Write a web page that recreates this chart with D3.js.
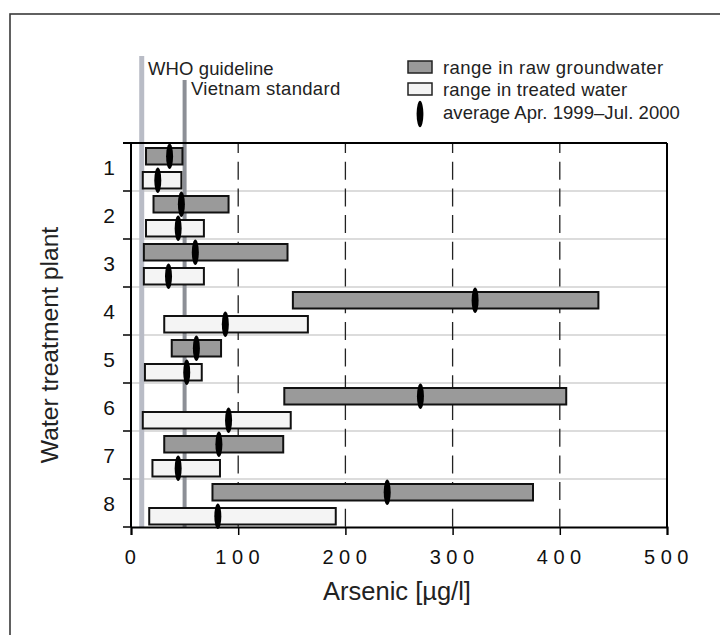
<!DOCTYPE html>
<html>
<head>
<meta charset="utf-8">
<script src="https://cdn.jsdelivr.net/npm/d3@7"></script>
<style>
  html, body { margin: 0; padding: 0; background: #fff; }
  svg { display: block; font-family: "Liberation Sans", Arial, Helvetica, sans-serif; }
</style>
</head>
<body>
<svg id="chart" width="720" height="635"></svg>
<script>
// ---- data ----
const plants = ["1", "2", "3", "4", "5", "6", "7", "8"];
const rawMin = [14, 21, 12, 151, 38, 143, 31, 76];
const rawMax = [48, 91, 146, 436, 84, 406, 142, 375];
const rawAvg = [36, 47, 60, 321, 61, 270, 82, 239];
const treatedMin = [11, 14, 12, 31, 13, 11, 20, 17];
const treatedMax = [47, 68, 68, 165, 66, 149, 83, 191];
const treatedAvg = [25, 44, 35, 88, 52, 91, 44, 81];
const xTicks = [0, 100, 200, 300, 400, 500];
const dashedTicks = [100, 200, 300, 400];
const guidelineNames = ["WHO guideline", "Vietnam standard"];
const guidelineValues = [10, 50];
const legendLabels = ["range in raw groundwater", "range in treated water", "average Apr. 1999\u2013Jul. 2000"];

(function () {
// ---- layout ----
const svg = d3.select("#chart");
const pL = 131, pR = 667, pT = 143, pB = 527;
const labelFont = 18.5;

const x = d3.scaleLinear().domain([0, 500]).range([pL, pR]);
const y = d3.scaleBand().domain(plants).range([pT, pB]).padding(0);

// outer frame (extends past the window)
svg.append("rect").attr("x", 10).attr("y", 14).attr("width", 760).attr("height", 700)
  .attr("fill", "none").attr("stroke", "#3a3a3a").attr("stroke-width", 1.6);

// horizontal light grid lines between rows
svg.append("g").selectAll("line").data(plants.slice(1)).join("line")
  .attr("x1", pL).attr("x2", pR)
  .attr("y1", d => y(d)).attr("y2", d => y(d))
  .attr("stroke", "#d0d0d0").attr("stroke-width", 1.5);

// dashed verticals
svg.append("g").selectAll("line").data(dashedTicks).join("line")
  .attr("x1", d => x(d)).attr("x2", d => x(d))
  .attr("y1", pT).attr("y2", pB)
  .attr("stroke", "#222").attr("stroke-width", 1.3)
  .attr("stroke-dasharray", "18,8.7").attr("stroke-dashoffset", 8);

// guideline lines
const glColors = ["#b9bcc6", "#8c8f96"];
const glTop = [56, 80];
const glWidth = [5, 4];
guidelineValues.forEach((v, i) => {
  svg.append("line").attr("x1", x(v)).attr("x2", x(v))
    .attr("y1", glTop[i]).attr("y2", pB)
    .attr("stroke", glColors[i]).attr("stroke-width", glWidth[i]);
});
svg.append("text").attr("x", 148).attr("y", 75).attr("font-size", labelFont)
  .attr("letter-spacing", 0.1).attr("fill", "#222").text(guidelineNames[0]);
svg.append("text").attr("x", 191).attr("y", 95).attr("font-size", labelFont)
  .attr("letter-spacing", 0.3).attr("fill", "#222").text(guidelineNames[1]);

// axes frame: top, right
svg.append("line").attr("x1", pL - 8).attr("x2", pR).attr("y1", pT).attr("y2", pT)
  .attr("stroke", "#000").attr("stroke-width", 2);
svg.append("line").attr("x1", pR).attr("x2", pR).attr("y1", pT).attr("y2", pB)
  .attr("stroke", "#000").attr("stroke-width", 2);

// bottom axis
const xAxis = d3.axisBottom(x).tickValues(xTicks).tickSize(8).tickFormat(d3.format("d"));
const gx = svg.append("g").attr("transform", `translate(0,${pB})`).call(xAxis);
gx.select(".domain").attr("stroke", "#000").attr("stroke-width", 2);
gx.selectAll(".tick line").attr("stroke", "#000").attr("stroke-width", 1.5);
gx.selectAll(".tick text").attr("font-size", 20).attr("fill", "#111")
  .attr("font-family", "Liberation Sans, Arial, sans-serif")
  .attr("letter-spacing", 5.5).attr("dx", 1.5).attr("dy", 26);

// left axis with ticks at row boundaries
const yBoundaries = plants.map(p => y(p)).concat([pB]);
const gy = svg.append("g");
gy.append("line").attr("x1", pL).attr("x2", pL).attr("y1", pT).attr("y2", pB)
  .attr("stroke", "#000").attr("stroke-width", 2);
gy.selectAll("line.tk").data(yBoundaries).join("line").attr("class", "tk")
  .attr("x1", pL - 8).attr("x2", pL).attr("y1", d => d).attr("y2", d => d)
  .attr("stroke", "#000").attr("stroke-width", 1.5);
gy.selectAll("text").data(plants).join("text")
  .attr("x", 109).attr("y", d => y(d) + y.bandwidth() / 2 + 8)
  .attr("text-anchor", "middle").attr("font-size", 21).attr("fill", "#111")
  .text(d => d);

// bars
const rows = plants.map((p, i) => ({ p, rMin: rawMin[i], rMax: rawMax[i], rAvg: rawAvg[i],
  tMin: treatedMin[i], tMax: treatedMax[i], tAvg: treatedAvg[i] }));
const barH = 16.5, rawOff = 5, trOff = 29;

const gb = svg.append("g");
gb.selectAll("rect.raw").data(rows).join("rect").attr("class", "raw")
  .attr("x", d => x(d.rMin)).attr("width", d => x(d.rMax) - x(d.rMin))
  .attr("y", d => y(d.p) + rawOff).attr("height", barH)
  .attr("fill", "#9a9a9a").attr("stroke", "#111").attr("stroke-width", 2);
gb.selectAll("rect.tr").data(rows).join("rect").attr("class", "tr")
  .attr("x", d => x(d.tMin)).attr("width", d => x(d.tMax) - x(d.tMin))
  .attr("y", d => y(d.p) + trOff).attr("height", barH)
  .attr("fill", "#f4f4f4").attr("stroke", "#111").attr("stroke-width", 2);
gb.selectAll("ellipse.ra").data(rows).join("ellipse").attr("class", "ra")
  .attr("cx", d => x(d.rAvg)).attr("cy", d => y(d.p) + rawOff + barH / 2)
  .attr("rx", 3.5).attr("ry", 12.8).attr("fill", "#000");
gb.selectAll("ellipse.ta").data(rows).join("ellipse").attr("class", "ta")
  .attr("cx", d => x(d.tAvg)).attr("cy", d => y(d.p) + trOff + barH / 2)
  .attr("rx", 3.5).attr("ry", 12.8).attr("fill", "#000");

// axis titles
svg.append("text").attr("x", 397).attr("y", 600)
  .attr("text-anchor", "middle").attr("font-size", 25.5).attr("fill", "#222")
  .text("Arsenic [\u00b5g/l]");
svg.append("text").attr("transform", `translate(58,345) rotate(-90)`)
  .attr("text-anchor", "middle").attr("font-size", 24.7).attr("fill", "#222")
  .text("Water treatment plant");

// legend
const lg = svg.append("g");
lg.append("rect").attr("x", 408).attr("y", 61).attr("width", 24).attr("height", 12)
  .attr("fill", "#9a9a9a").attr("stroke", "#222").attr("stroke-width", 1.5);
lg.append("rect").attr("x", 408).attr("y", 83).attr("width", 24).attr("height", 12)
  .attr("fill", "#f4f4f4").attr("stroke", "#222").attr("stroke-width", 1.5);
lg.append("ellipse").attr("cx", 420).attr("cy", 114).attr("rx", 3.4).attr("ry", 13.2).attr("fill", "#000");
const lgY = [74, 96, 119];
const lgSpacing = [0.45, 0.2, 0.05];
legendLabels.forEach((t, i) => {
  lg.append("text").attr("x", 443).attr("y", lgY[i]).attr("font-size", labelFont)
    .attr("letter-spacing", lgSpacing[i]).attr("fill", "#222").text(t);
});
})();
</script>
</body>
</html>
